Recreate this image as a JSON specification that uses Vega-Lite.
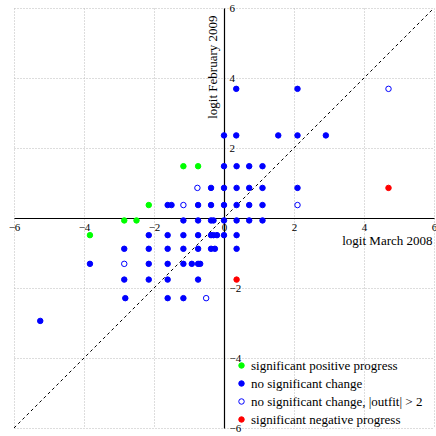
{
  "$schema": "https://vega.github.io/schema/vega-lite/v6.json",
  "width": 420,
  "height": 420,
  "autosize": {"type": "none"},
  "padding": {"left": 14, "top": 8, "right": 2, "bottom": 8},
  "config": {"view": {"stroke": null}, "font": "Liberation Serif"},
  "resolve": {"axis": {"x": "independent", "y": "independent"}},
  "layer": [
    {
      "data": {"values": [{"x": -6, "y": -6}, {"x": 6, "y": 6}]},
      "mark": {"type": "line", "color": "black", "strokeDash": [3, 3], "strokeWidth": 1},
      "encoding": {
        "x": {
          "field": "x", "type": "quantitative",
          "scale": {"domain": [-6, 6], "nice": false, "zero": false},
          "axis": {
            "orient": "bottom", "values": [-6, -4, -2, 0, 2, 4, 6],
            "grid": true, "gridColor": "#bbbbbb", "gridDash": [1, 2], "gridWidth": 1,
            "ticks": false, "domain": false, "labels": false, "title": null
          }
        },
        "y": {
          "field": "y", "type": "quantitative",
          "scale": {"domain": [-6, 6], "nice": false, "zero": false},
          "axis": {
            "orient": "left", "values": [-6, -4, -2, 0, 2, 4, 6],
            "grid": true, "gridColor": "#bbbbbb", "gridDash": [1, 2], "gridWidth": 1,
            "ticks": false, "domain": false, "labels": false, "title": null
          }
        }
      }
    },
    {
      "data": {"values": [
        {"x": -1.16, "y": 1.48, "cat": "significant positive progress"},
        {"x": -0.74, "y": 1.48, "cat": "significant positive progress"},
        {"x": -2.15, "y": 0.37, "cat": "significant positive progress"},
        {"x": -2.85, "y": -0.07, "cat": "significant positive progress"},
        {"x": -2.5, "y": -0.07, "cat": "significant positive progress"},
        {"x": -3.83, "y": -0.49, "cat": "significant positive progress"},

        {"x": 0.35, "y": 3.69, "cat": "no significant change"},
        {"x": 2.1, "y": 3.69, "cat": "no significant change"},
        {"x": 0, "y": 2.36, "cat": "no significant change"},
        {"x": 0.35, "y": 2.36, "cat": "no significant change"},
        {"x": 1.55, "y": 2.36, "cat": "no significant change"},
        {"x": 2.1, "y": 2.36, "cat": "no significant change"},
        {"x": 2.91, "y": 2.36, "cat": "no significant change"},
        {"x": 0, "y": 1.48, "cat": "no significant change"},
        {"x": 0.36, "y": 1.48, "cat": "no significant change"},
        {"x": 0.72, "y": 1.48, "cat": "no significant change"},
        {"x": 1.1, "y": 1.48, "cat": "no significant change"},
        {"x": -0.37, "y": 0.86, "cat": "no significant change"},
        {"x": 0, "y": 0.86, "cat": "no significant change"},
        {"x": 0.36, "y": 0.86, "cat": "no significant change"},
        {"x": 0.72, "y": 0.86, "cat": "no significant change"},
        {"x": 1.1, "y": 0.86, "cat": "no significant change"},
        {"x": 2.1, "y": 0.86, "cat": "no significant change"},
        {"x": -1.61, "y": 0.37, "cat": "no significant change"},
        {"x": -1.5, "y": 0.37, "cat": "no significant change"},
        {"x": -0.74, "y": 0.37, "cat": "no significant change"},
        {"x": -0.37, "y": 0.37, "cat": "no significant change"},
        {"x": 0, "y": 0.37, "cat": "no significant change"},
        {"x": 0.36, "y": 0.37, "cat": "no significant change"},
        {"x": 0.72, "y": 0.37, "cat": "no significant change"},
        {"x": 1.1, "y": 0.37, "cat": "no significant change"},
        {"x": -1.16, "y": -0.07, "cat": "no significant change"},
        {"x": -0.74, "y": -0.07, "cat": "no significant change"},
        {"x": -0.37, "y": -0.07, "cat": "no significant change"},
        {"x": -0.3, "y": -0.07, "cat": "no significant change"},
        {"x": 0, "y": -0.07, "cat": "no significant change"},
        {"x": 0.36, "y": -0.07, "cat": "no significant change"},
        {"x": 0.72, "y": -0.07, "cat": "no significant change"},
        {"x": 1.1, "y": -0.07, "cat": "no significant change"},
        {"x": -2.15, "y": -0.49, "cat": "no significant change"},
        {"x": -1.61, "y": -0.49, "cat": "no significant change"},
        {"x": -1.16, "y": -0.49, "cat": "no significant change"},
        {"x": -0.74, "y": -0.49, "cat": "no significant change"},
        {"x": -0.37, "y": -0.49, "cat": "no significant change"},
        {"x": -0.3, "y": -0.49, "cat": "no significant change"},
        {"x": -0.2, "y": -0.49, "cat": "no significant change"},
        {"x": 0, "y": -0.49, "cat": "no significant change"},
        {"x": 0.36, "y": -0.49, "cat": "no significant change"},
        {"x": -2.85, "y": -0.88, "cat": "no significant change"},
        {"x": -2.15, "y": -0.88, "cat": "no significant change"},
        {"x": -1.61, "y": -0.88, "cat": "no significant change"},
        {"x": -1.16, "y": -0.88, "cat": "no significant change"},
        {"x": -0.74, "y": -0.88, "cat": "no significant change"},
        {"x": -0.37, "y": -0.88, "cat": "no significant change"},
        {"x": -0.26, "y": -0.88, "cat": "no significant change"},
        {"x": 0.36, "y": -0.88, "cat": "no significant change"},
        {"x": -3.83, "y": -1.31, "cat": "no significant change"},
        {"x": -2.15, "y": -1.31, "cat": "no significant change"},
        {"x": -1.61, "y": -1.31, "cat": "no significant change"},
        {"x": -1.16, "y": -1.31, "cat": "no significant change"},
        {"x": -0.92, "y": -1.31, "cat": "no significant change"},
        {"x": -0.74, "y": -1.31, "cat": "no significant change"},
        {"x": -0.68, "y": -1.31, "cat": "no significant change"},
        {"x": -2.85, "y": -1.76, "cat": "no significant change"},
        {"x": -2.15, "y": -1.76, "cat": "no significant change"},
        {"x": -1.61, "y": -1.76, "cat": "no significant change"},
        {"x": -0.74, "y": -1.76, "cat": "no significant change"},
        {"x": -2.82, "y": -2.29, "cat": "no significant change"},
        {"x": -1.61, "y": -2.29, "cat": "no significant change"},
        {"x": -1.16, "y": -2.29, "cat": "no significant change"},
        {"x": -5.25, "y": -2.94, "cat": "no significant change"},

        {"x": 4.7, "y": 3.69, "cat": "no significant change, |outfit| > 2"},
        {"x": -0.76, "y": 0.86, "cat": "no significant change, |outfit| > 2"},
        {"x": -1.16, "y": 0.37, "cat": "no significant change, |outfit| > 2"},
        {"x": 2.1, "y": 0.37, "cat": "no significant change, |outfit| > 2"},
        {"x": -2.85, "y": -1.31, "cat": "no significant change, |outfit| > 2"},
        {"x": -0.51, "y": -2.29, "cat": "no significant change, |outfit| > 2"},

        {"x": 4.7, "y": 0.86, "cat": "significant negative progress"},
        {"x": 0.36, "y": -1.76, "cat": "significant negative progress"}
      ]},
      "mark": {"type": "circle", "size": 30, "strokeWidth": 1, "opacity": 1},
      "encoding": {
        "x": {
          "field": "x", "type": "quantitative",
          "scale": {"domain": [-6, 6], "nice": false, "zero": false},
          "axis": {
            "orient": "bottom", "offset": -210, "values": [-6, -4, -2, 0, 2, 4, 6],
            "grid": false, "ticks": false, "domainColor": "black", "domainWidth": 1.2,
            "labelFont": "Liberation Serif", "labelFontSize": 11, "labelColor": "black",
            "labelPadding": 3, "labelFlush": false, "labelOverlap": false,
            "title": "logit March 2008", "titleFont": "Liberation Serif", "titleFontSize": 13,
            "titleFontWeight": "normal", "titleColor": "black",
            "titleX": 418, "titleY": 26, "titleAlign": "right", "titleBaseline": "alphabetic"
          }
        },
        "y": {
          "field": "y", "type": "quantitative",
          "scale": {"domain": [-6, 6], "nice": false, "zero": false},
          "axis": {
            "orient": "right", "offset": -210, "values": [-6, -4, -2, 0, 2, 4, 6],
            "grid": false, "ticks": false, "domainColor": "black", "domainWidth": 1.2,
            "labelFont": "Liberation Serif", "labelFontSize": 11, "labelColor": "black",
            "labelPadding": 5, "labelFlush": false, "labelOverlap": false,
            "labelAlign": "left", "labelBaseline": "middle",
            "labelExpr": "datum.value == 0 ? '' : datum.label",
            "title": "logit February 2009", "titleFont": "Liberation Serif", "titleFontSize": 13,
            "titleFontWeight": "normal", "titleColor": "black",
            "titleAngle": 270, "titleAlign": "right", "titleBaseline": "bottom",
            "titleX": -5, "titleY": 7
          }
        },
        "fill": {
          "field": "cat", "type": "nominal",
          "scale": {
            "domain": ["significant positive progress", "no significant change", "no significant change, |outfit| > 2", "significant negative progress"],
            "range": ["#00ff00", "#0000ff", "#ffffff", "#ff0000"]
          },
          "legend": {
            "orient": "none", "legendX": 221, "legendY": 351, "title": null,
            "labelFont": "Liberation Serif", "labelFontSize": 13, "labelLimit": 400,
            "symbolSize": 30, "symbolStrokeWidth": 1, "rowPadding": 4, "labelOffset": 3, "padding": 0,
            "encode": {"labels": {"update": {"fill": {"signal": "datum.value == 'significant positive progress' ? '#00ff00' : datum.value == 'significant negative progress' ? '#ff0000' : '#0000ff'"}}}}
          }
        },
        "stroke": {
          "field": "cat", "type": "nominal",
          "scale": {
            "domain": ["significant positive progress", "no significant change", "no significant change, |outfit| > 2", "significant negative progress"],
            "range": ["#00ff00", "#0000ff", "#0000ff", "#ff0000"]
          },
          "legend": {
            "orient": "none", "legendX": 221, "legendY": 351, "title": null,
            "labelFont": "Liberation Serif", "labelFontSize": 13, "labelLimit": 400,
            "symbolSize": 30, "symbolStrokeWidth": 1, "rowPadding": 4, "labelOffset": 3, "padding": 0,
            "encode": {"labels": {"update": {"fill": {"signal": "datum.value == 'significant positive progress' ? '#00ff00' : datum.value == 'significant negative progress' ? '#ff0000' : '#0000ff'"}}}}
          }
        }
      }
    }
  ]
}
